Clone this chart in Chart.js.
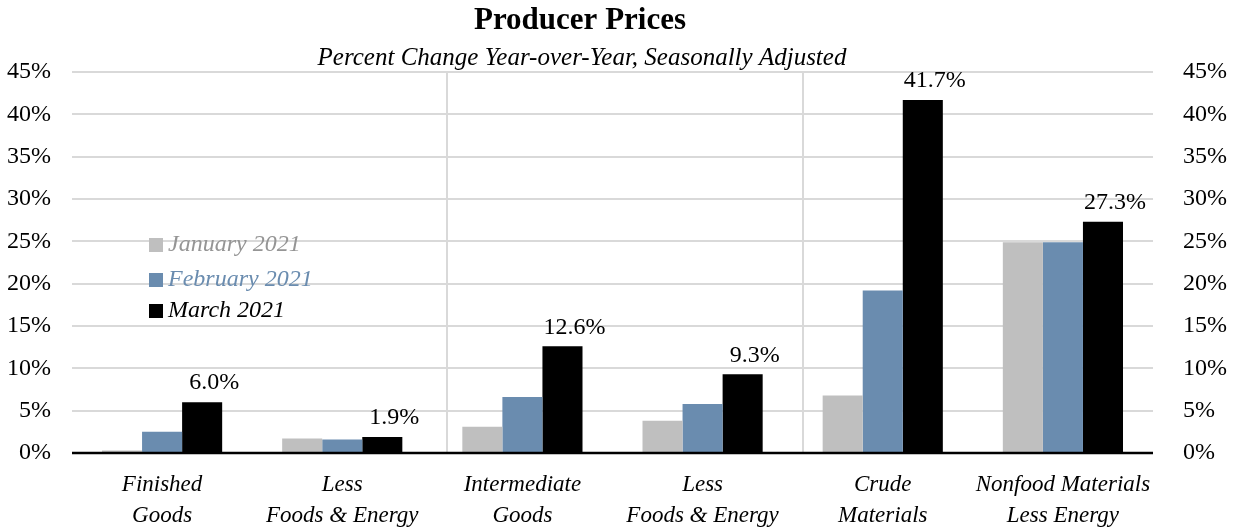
<!DOCTYPE html>
<html>
<head>
<meta charset="utf-8">
<script src="https://cdn.jsdelivr.net/npm/chart.js@4.4.1/dist/chart.umd.min.js"></script>
<style>
  html, body { margin: 0; padding: 0; background: #fff; }
  #wrap { width: 1233px; height: 529px; }
</style>
</head>
<body>
<div id="wrap"><canvas id="ppi"></canvas></div>
<script>
// chart data
const categories = [
  ["Finished", "Goods"],
  ["Less", "Foods & Energy"],
  ["Intermediate", "Goods"],
  ["Less", "Foods & Energy"],
  ["Crude", "Materials"],
  ["Nonfood Materials", "Less Energy"]
];
const seriesNames = ["January 2021", "February 2021", "March 2021"];
const jan2021 = [0.3, 1.7, 3.1, 3.8, 6.8, 24.9];
const feb2021 = [2.5, 1.6, 6.6, 5.8, 19.2, 24.9];
const mar2021 = [6.0, 1.9, 12.6, 9.3, 41.7, 27.3];
const yTicks = [0, 5, 10, 15, 20, 25, 30, 35, 40, 45];

const colors = ["#bfbfbf", "#6a8caf", "#000000"];
const legendText = ["#959595", "#6a8caf", "#000000"];
const serif = "'Liberation Serif', 'DejaVu Serif', serif";

// title + subtitle, legend, separators and value labels
const decorations = {
  id: "decorations",
  beforeDatasetsDraw(chart) {
    const { ctx, chartArea, scales } = chart;
    ctx.save();
    ctx.strokeStyle = "#d9d9d9";
    ctx.lineWidth = 2;
    [1.583, 3.556].forEach(v => {
      const x = Math.round(scales.x.getPixelForValue(v));
      ctx.beginPath();
      ctx.moveTo(x, chartArea.top);
      ctx.lineTo(x, chartArea.bottom);
      ctx.stroke();
    });
    ctx.restore();
  },
  afterDraw(chart) {
    const { ctx, chartArea, scales } = chart;
    ctx.save();
    // zero line
    const y0 = scales.y.getPixelForValue(0);
    ctx.strokeStyle = "#000";
    ctx.lineWidth = 2.5;
    ctx.beginPath();
    ctx.moveTo(chartArea.left, y0);
    ctx.lineTo(chartArea.right, y0);
    ctx.stroke();

    // title
    ctx.fillStyle = "#000";
    ctx.textAlign = "center";
    ctx.textBaseline = "middle";
    ctx.font = "bold 31px " + serif;
    ctx.fillText("Producer Prices", 580, 21);
    ctx.font = "italic 25px " + serif;
    ctx.fillText("Percent Change Year-over-Year, Seasonally Adjusted", 582, 58);

    // labels on March bars
    const meta = chart.getDatasetMeta(2);
    ctx.font = "24px " + serif;
    ctx.textBaseline = "bottom";
    meta.data.forEach((bar, i) => {
      ctx.fillText(mar2021[i].toFixed(1) + "%", bar.x + 12, bar.y - 7);
    });

    // legend
    ctx.textAlign = "left";
    ctx.textBaseline = "middle";
    ctx.font = "italic 24px " + serif;
    const rows = [245, 280, 311];
    seriesNames.forEach((name, i) => {
      ctx.fillStyle = colors[i];
      ctx.fillRect(149, rows[i] - 7, 14, 14);
      ctx.fillStyle = legendText[i];
      ctx.fillText(name, 168, rows[i]);
    });
    ctx.restore();
  }
};

new Chart(document.getElementById("ppi"), {
  type: "bar",
  data: {
    labels: categories,
    datasets: [
      { label: seriesNames[0], data: jan2021, backgroundColor: colors[0] },
      { label: seriesNames[1], data: feb2021, backgroundColor: colors[1] },
      { label: seriesNames[2], data: mar2021, backgroundColor: colors[2] }
    ]
  },
  options: {
    responsive: true,
    maintainAspectRatio: false,
    animation: false,
    datasets: {
      bar: { categoryPercentage: 0.667, barPercentage: 1.0, borderWidth: 0 }
    },
    layout: { padding: { top: 72, bottom: 0, left: 0, right: 0 } },
    plugins: {
      legend: { display: false },
      title: { display: false },
      tooltip: { enabled: false }
    },
    scales: {
      x: {
        grid: { display: false },
        border: { display: false },
        ticks: {
          color: "#000",
          font: { family: serif, size: 23, style: "italic", lineHeight: 1.35 },
          maxRotation: 0,
          autoSkip: false,
          padding: 8
        },
        afterFit(scale) { scale.height = 76; }
      },
      y: {
        position: "left",
        min: 0,
        max: 45,
        afterBuildTicks(axis) { axis.ticks = yTicks.map(v => ({ value: v })); },
        grid: { color: "#d9d9d9", lineWidth: 2, drawTicks: false },
        border: { display: false },
        ticks: {
          color: "#000",
          font: { family: serif, size: 24 },
          padding: 21,
          callback: v => v + "%"
        },
        afterFit(scale) { scale.width = 72; }
      },
      y2: {
        position: "right",
        min: 0,
        max: 45,
        afterBuildTicks(axis) { axis.ticks = yTicks.map(v => ({ value: v })); },
        grid: { display: false },
        border: { display: false },
        ticks: {
          color: "#000",
          font: { family: serif, size: 24 },
          padding: 22,
          callback: v => v + "%"
        },
        afterFit(scale) { scale.width = 80; }
      }
    }
  },
  plugins: [decorations]
});
</script>
</body>
</html>
